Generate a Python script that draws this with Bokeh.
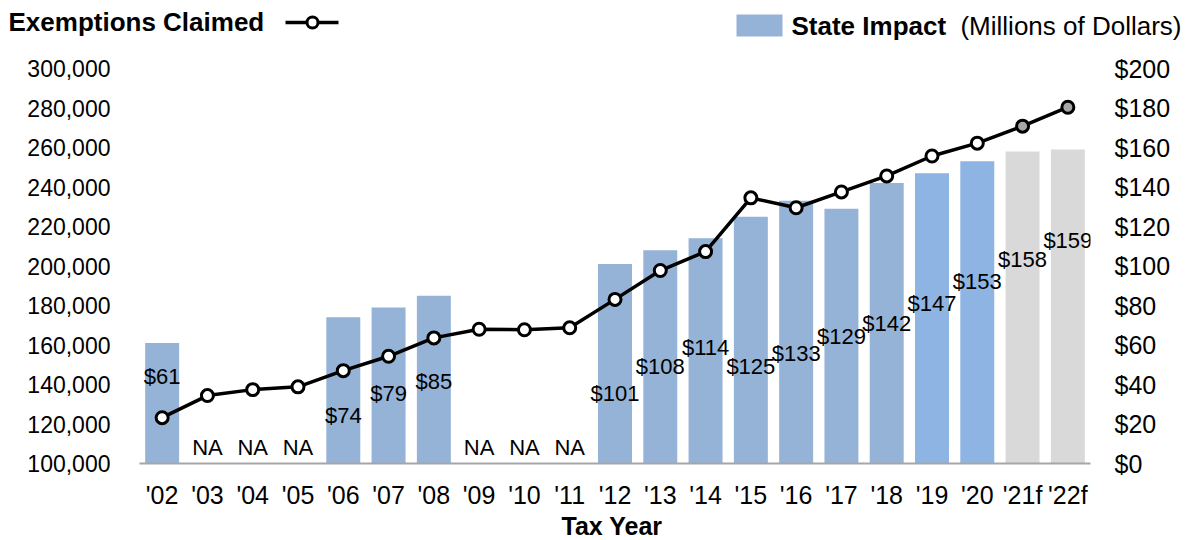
from bokeh.plotting import figure
from bokeh.layouts import column
from bokeh.models import (Range1d, FactorRange, LinearAxis, FixedTicker, NumeralTickFormatter,
                          ColumnDataSource)
from bokeh.embed import file_html
from bokeh.resources import INLINE
from bokeh.core.properties import value

# ---------------- data ----------------
years = ["'02", "'03", "'04", "'05", "'06", "'07", "'08", "'09", "'10", "'11",
         "'12", "'13", "'14", "'15", "'16", "'17", "'18", "'19", "'20", "'21f", "'22f"]
NA = float("nan")
impact = [61, NA, NA, NA, 74, 79, 85, NA, NA, NA,
          101, 108, 114, 125, 133, 129, 142, 147, 153, 158, 159]
impact_labels = ["$61", "NA", "NA", "NA", "$74", "$79", "$85", "NA", "NA", "NA",
                 "$101", "$108", "$114", "$125", "$133", "$129", "$142", "$147", "$153", "$158", "$159"]
exemptions = [123200, 134400, 137400, 138800, 147000, 154300, 163600, 168000, 167700, 168700,
              183100, 197700, 207300, 234500, 229500, 237500, 245600, 255700, 262200, 270800, 280400]
bar_kind = ["actual"] * 17 + ["recent"] * 2 + ["forecast"] * 2
left_ticks = list(range(100000, 300001, 20000))
right_ticks = list(range(0, 201, 20))

# label placement (in $ units of the right axis)
label_y = [44.3, 8.3, 8.3, 8.3, 24.4, 35.3, 41.6, 8.3, 8.3, 8.3,
           35.3, 48.9, 58.9, 48.9, 55.9, 64.5, 71.0, 81.1, 92.2, 103.3, 112.8]

# ---------------- styles ----------------
FONT = "Liberation Sans"
bar_colors = {"actual": "#95B3D7", "recent": "#8DB4E2", "forecast": "#D9D9D9"}
marker_fill = {"actual": "white", "recent": "white", "forecast": "#A6A6A6"}

W, H = 1190, 540
HH = 44                               # header strip height
FH = 29                               # footer strip height
FL, FR, FT, FB = 139, 1090, 68, 465   # frame edges in page pixels


def strip(height):
    f = figure(width=W, height=height, output_backend="svg", toolbar_location=None,
               x_range=Range1d(0, W), y_range=Range1d(height, 0),
               x_axis_location=None, y_axis_location=None,
               min_border=0, min_border_left=0, min_border_right=0,
               min_border_top=0, min_border_bottom=0, frame_align=False)
    f.outline_line_color = None
    f.grid.grid_line_color = None
    return f


# ---------------- header strip (legend) ----------------
hdr = strip(HH)
hdr.text(x=[8], y=[21], text=["Exemptions Claimed"], text_font=value(FONT),
         text_font_size="26px", text_font_style="bold", text_color="black",
         text_align="left", text_baseline="middle")
hdr.line(x=[285, 338], y=[22, 22], line_color="black", line_width=3.5)
hdr.scatter(x=[312], y=[22], size=11, fill_color="white", line_color="black", line_width=3)
hdr.quad(left=[736], right=[782], top=[14], bottom=[36], fill_color="#95B3D7", line_color=None)
hdr.text(x=[791], y=[25], text=["State Impact"], text_font=value(FONT),
         text_font_size="26px", text_font_style="bold", text_color="black",
         text_align="left", text_baseline="middle")
hdr.text(x=[1181], y=[25], text=["(Millions of Dollars)"], text_font=value(FONT),
         text_font_size="26px", text_color="black",
         text_align="right", text_baseline="middle")

# ---------------- main chart ----------------
MAIN_H = H - HH - FH
p = figure(width=W, height=MAIN_H, output_backend="svg", toolbar_location=None,
           x_range=FactorRange(*years, range_padding=0),
           y_range=Range1d(100000, 300000),
           min_border_left=FL, min_border_right=W - FR,
           min_border_top=FT - HH, min_border_bottom=HH + MAIN_H - FB, frame_align=False)
p.outline_line_color = None
p.xgrid.grid_line_color = None
p.ygrid.grid_line_color = None
p.x_range.factor_padding = 0
p.extra_y_ranges = {"usd": Range1d(0, 200)}

p.yaxis.ticker = FixedTicker(ticks=left_ticks)
p.yaxis.formatter = NumeralTickFormatter(format="0,0")
p.yaxis.axis_line_color = None
p.yaxis.major_tick_out = 0
p.yaxis.major_tick_in = 0
p.yaxis.minor_tick_out = 0
p.yaxis.minor_tick_in = 0
p.yaxis.major_label_standoff = 29
p.yaxis.major_label_text_font = FONT
p.yaxis.major_label_text_font_size = "23px"
p.yaxis.major_label_text_color = "black"

ra = LinearAxis(y_range_name="usd", ticker=FixedTicker(ticks=right_ticks),
                formatter=NumeralTickFormatter(format="$0"))
ra.axis_line_color = None
ra.major_tick_out = 0
ra.major_tick_in = 0
ra.minor_tick_out = 0
ra.minor_tick_in = 0
ra.major_label_standoff = 24
ra.major_label_text_font = FONT
ra.major_label_text_font_size = "25px"
ra.major_label_text_color = "black"
p.add_layout(ra, "right")

p.xaxis.axis_line_color = "#A6A6A6"
p.xaxis.axis_line_width = 2
p.xaxis.major_tick_out = 0
p.xaxis.major_tick_in = 0
p.xaxis.minor_tick_out = 0
p.xaxis.major_label_standoff = 17
p.xaxis.major_label_text_font = FONT
p.xaxis.major_label_text_font_size = "25px"
p.xaxis.major_label_text_color = "black"

src = ColumnDataSource(dict(x=years, top=impact, color=[bar_colors[k] for k in bar_kind],
                            mfill=[marker_fill[k] for k in bar_kind], ex=exemptions,
                            ly=label_y, lt=impact_labels))
p.vbar(x="x", top="top", width=0.75, y_range_name="usd", fill_color="color",
       line_color=None, source=src)
p.text(x="x", y="ly", text="lt", y_range_name="usd", source=src,
       text_font=value(FONT), text_font_size="22px", text_align="center",
       text_baseline="middle", text_color="black")
p.line(x="x", y="ex", source=src, line_color="black", line_width=3.5)
p.scatter(x="x", y="ex", source=src, size=12, fill_color="mfill",
          line_color="black", line_width=3)

# ---------------- footer strip (x-axis title) ----------------
ftr = strip(FH)
ftr.text(x=[(FL + FR) / 2 - 3], y=[525 - (H - FH)], text=["Tax Year"], text_font=value(FONT),
         text_font_size="25px", text_font_style="bold", text_color="black",
         text_align="center", text_baseline="middle")

layout = column(hdr, p, ftr, spacing=0)
open("out.html", "w").write(file_html(layout, INLINE))
